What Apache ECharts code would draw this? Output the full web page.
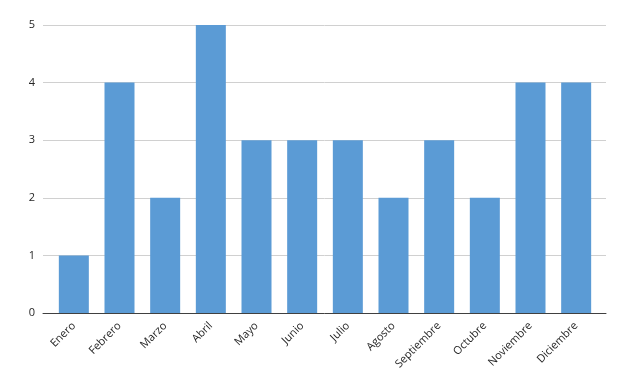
<!DOCTYPE html>
<html><head><meta charset="utf-8">
<script src="https://cdn.jsdelivr.net/npm/echarts@6/dist/echarts.min.js"></script>
<style>html,body{margin:0;padding:0;background:#fff}#c{width:626px;height:388px}</style>
</head><body><div id="c"></div>
<script>
const categories = ['Enero','Febrero','Marzo','Abril','Mayo','Junio','Julio','Agosto','Septiembre','Octubre','Noviembre','Diciembre'];
const values = [1,4,2,5,3,3,3,2,3,2,4,4];
const yTicks = [0,1,2,3,4,5];

const chart = echarts.init(document.getElementById('c'));
const font = "'Open Sans', 'DejaVu Sans', sans-serif";
chart.setOption({
  animation: false,
  grid: [
    {left: 43, right: 20, top: 25, bottom: 75},
    {left: 51, right: 27, top: 25, bottom: 75}
  ],
  xAxis: [
    {gridIndex: 0, type: 'value', min: 0, max: 1, show: true,
     axisLine: {show: true, onZero: false, lineStyle: {color: '#404040', width: 1}},
     axisTick: {show: false}, axisLabel: {show: false}, splitLine: {show: false}},
    {gridIndex: 1, type: 'category', data: categories,
     axisLine: {show: false}, axisTick: {show: false},
     axisLabel: {interval: 0, rotate: 45, fontSize: 11, color: '#262626', fontFamily: font, margin: 11}}
  ],
  yAxis: [
    {gridIndex: 0, type: 'value', min: yTicks[0], max: yTicks[yTicks.length-1], interval: 1,
     axisLine: {show: false}, axisTick: {show: false},
     axisLabel: {fontSize: 11, color: '#262626', fontFamily: font, margin: 8},
     splitLine: {lineStyle: {color: '#d0d0d0', width: 1}}},
    {gridIndex: 1, type: 'value', min: yTicks[0], max: yTicks[yTicks.length-1], interval: 1, show: false,
     splitLine: {show: false}}
  ],
  series: [{
    type: 'bar', xAxisIndex: 1, yAxisIndex: 1, data: values,
    barWidth: 30, itemStyle: {color: '#5B9BD5'}
  }]
});
</script></body></html>
